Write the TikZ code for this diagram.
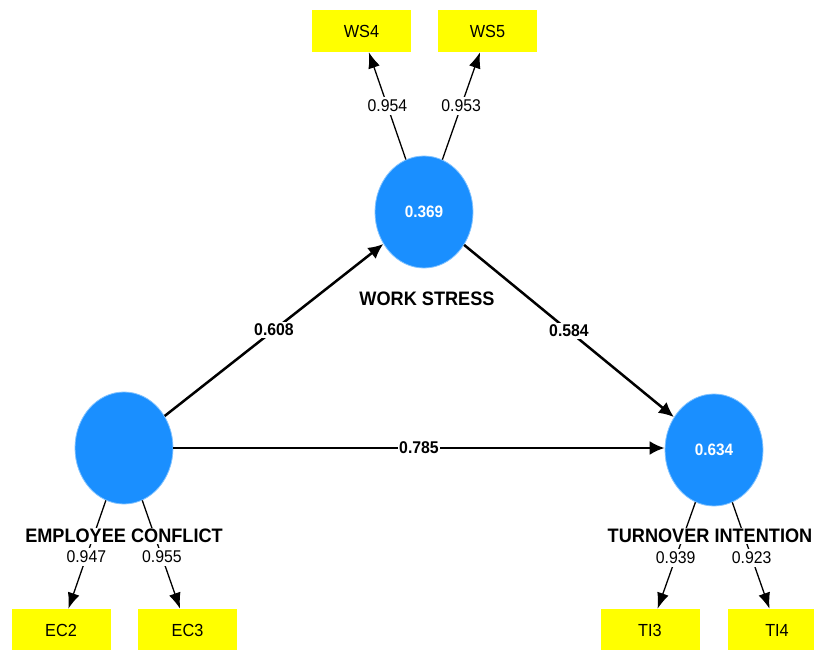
\documentclass[tikz,border=0pt]{standalone}
\usepackage{fontspec}
\setmainfont{Liberation Sans}[FakeStretch=0.93]
\usetikzlibrary{arrows.meta,shapes.geometric}
\definecolor{lvblue}{RGB}{26,143,255}
\definecolor{lvedge}{RGB}{130,195,255}
\definecolor{indyellow}{RGB}{255,255,0}
\begin{document}
\begin{tikzpicture}[x=1pt,y=-1pt,
 latent/.style={ellipse,fill=lvblue,draw=lvedge,line width=0.8pt,minimum width=98pt,minimum height=112pt,inner sep=0pt,text=white,font=\fontsize{16.5}{18}\selectfont\bfseries},
 indicator/.style={rectangle,fill=indyellow,minimum width=99pt,minimum height=42pt,inner sep=0pt,font=\fontsize{17.5}{20}\selectfont},
 conlabel/.style={fill=white,inner sep=1pt,font=\fontsize{19.5}{21}\selectfont\bfseries},
 loadline/.style={line width=1.3pt,-{Latex[length=16pt,width=12pt]}},
 pathline/.style={line width=2.5pt,-{Latex[length=15pt,width=14pt]}},
 loadlabel/.style={fill=white,inner sep=3pt,font=\fontsize{17}{19}\selectfont},
 pathlabel/.style={fill=white,inner sep=1.5pt,font=\fontsize{17}{19}\selectfont\bfseries}]
\useasboundingbox (0,0) rectangle (814,650);
\clip (0,0) rectangle (814,650);
% latent variables
\node[latent] (ws) at (424,212) {0.369};
\node[latent] (ec) at (124,448) {};
\node[latent] (ti) at (714,450) {0.634};
% indicators
\node[indicator] (ws4) at (361.5,31) {WS4};
\node[indicator] (ws5) at (487.5,31) {WS5};
\node[indicator] (ec2) at (61,630) {EC2};
\node[indicator] (ec3) at (187.5,630) {EC3};
\node[indicator] (ti3) at (650,630) {TI3};
\node[indicator] (ti4) at (777,630) {TI4};
% loadings
\draw[loadline] (ws) -- node[loadlabel]{0.954} (ws4);
\draw[loadline] (ws) -- node[loadlabel]{0.953} (ws5);
\draw[loadline] (ec) -- node[loadlabel, pos=0.52]{0.947} (ec2);
\draw[loadline] (ec) -- node[loadlabel, pos=0.52]{0.955} (ec3);
\draw[loadline] (ti) -- node[loadlabel, pos=0.52]{0.939} (ti3);
\draw[loadline] (ti) -- node[loadlabel, pos=0.52]{0.923} (ti4);
% paths
\draw[pathline] (ec) -- node[pathlabel]{0.608} (ws);
\draw[pathline] (ws) -- node[pathlabel]{0.584} (ti);
\draw[pathline] (ec) -- node[pathlabel]{0.785} (ec -| ti.west);
% construct labels
\node[conlabel] (wsl) at (427,299) {WORK STRESS};
\node[conlabel] (ecl) at (124,536) {EMPLOYEE CONFLICT};
\node[conlabel] (til) at (710,536) {TURNOVER INTENTION};
\end{tikzpicture}
\end{document}
